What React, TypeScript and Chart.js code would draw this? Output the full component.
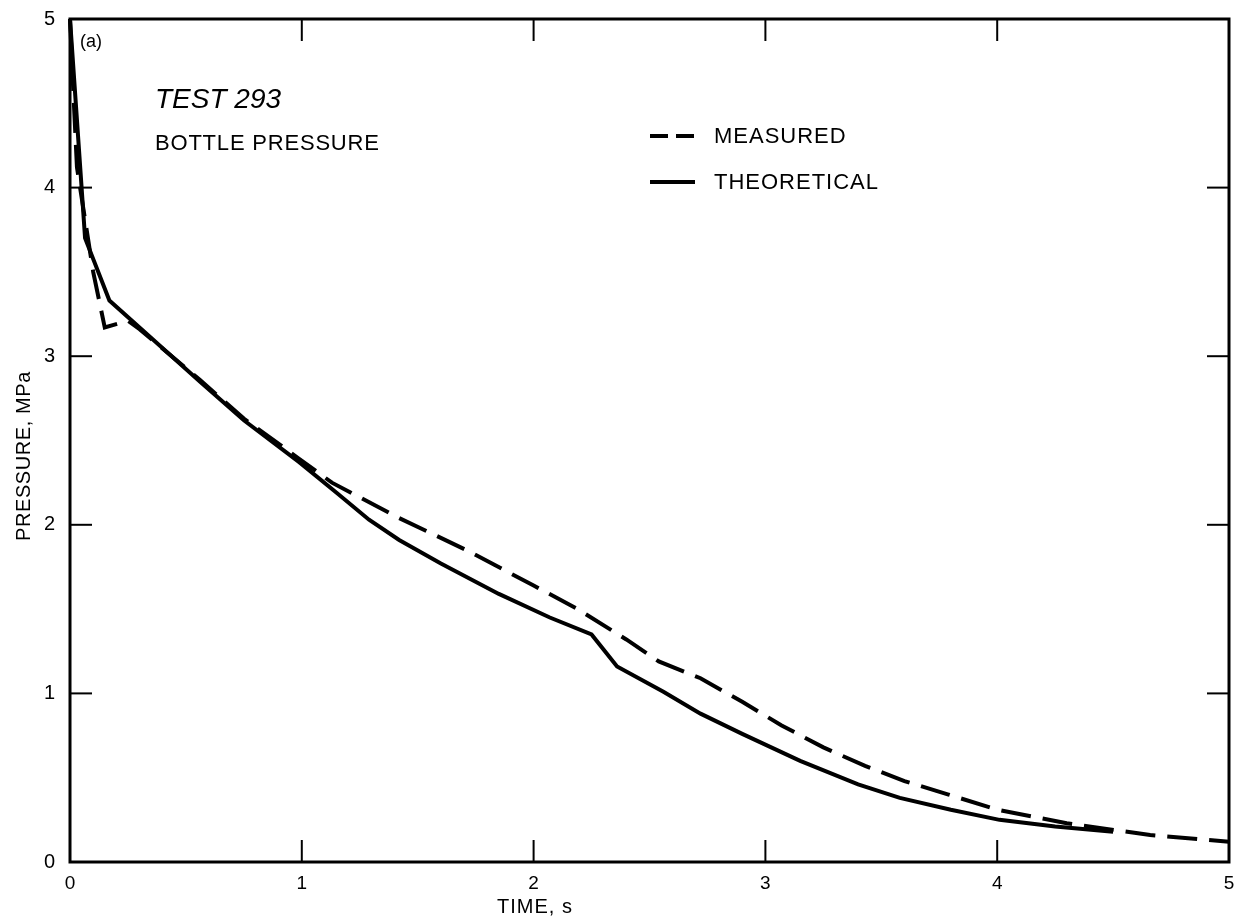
import { useEffect, useRef } from 'react';
import { Chart, registerables } from 'chart.js';

Chart.register(...registerables);

const FONT = "'Liberation Sans', Arial, sans-serif";

const measuredTime = [0, 0.015, 0.03, 0.1, 0.15, 0.25, 0.3, 0.56, 0.75, 0.99, 1.13, 1.42, 1.71, 2.0, 2.19, 2.4, 2.54, 2.72, 2.9, 3.07, 3.25, 3.43, 3.6, 3.79, 4.0, 4.3, 4.66, 5.0];
const measuredPressure = [5.0, 4.55, 4.12, 3.5, 3.17, 3.21, 3.16, 2.86, 2.63, 2.39, 2.25, 2.04, 1.85, 1.64, 1.5, 1.32, 1.19, 1.09, 0.95, 0.81, 0.68, 0.57, 0.48, 0.4, 0.31, 0.23, 0.16, 0.12];

const theoreticalTime = [0, 0.065, 0.17, 0.3, 0.56, 0.75, 0.99, 1.15, 1.29, 1.42, 1.6, 1.85, 2.07, 2.25, 2.36, 2.56, 2.72, 2.9, 3.15, 3.4, 3.58, 3.8, 4.01, 4.25, 4.5];
const theoreticalPressure = [5.0, 3.7, 3.33, 3.17, 2.85, 2.62, 2.37, 2.19, 2.03, 1.91, 1.77, 1.59, 1.45, 1.35, 1.16, 1.01, 0.88, 0.76, 0.6, 0.46, 0.38, 0.31, 0.25, 0.21, 0.18];

const xTickValues = [0, 1, 2, 3, 4, 5];
const yTickValues = [0, 1, 2, 3, 4, 5];

const seriesLabels = ['MEASURED', 'THEORETICAL'];
const xAxisTitle = 'TIME, s';
const yAxisTitle = 'PRESSURE, MPa';

const framePlugin = {
  id: 'frameAndNotes',
  afterDraw(chart: any) {
    const { ctx, chartArea: a, scales } = chart;
    ctx.save();
    ctx.strokeStyle = '#000';
    ctx.fillStyle = '#000';
    ctx.lineCap = 'butt';
    ctx.lineWidth = 3;
    ctx.strokeRect(a.left, a.top, a.right - a.left, a.bottom - a.top);
    ctx.lineWidth = 2;
    const tl = 22;
    const line = (x1: number, y1: number, x2: number, y2: number) => {
      ctx.beginPath();
      ctx.moveTo(x1, y1);
      ctx.lineTo(x2, y2);
      ctx.stroke();
    };
    xTickValues.slice(1, -1).forEach((v) => {
      const px = scales.x.getPixelForValue(v);
      line(px, a.bottom, px, a.bottom - tl);
      line(px, a.top, px, a.top + tl);
    });
    yTickValues.slice(1, -1).forEach((v) => {
      const py = scales.y.getPixelForValue(v);
      line(a.left, py, a.left + tl, py);
      line(a.right, py, a.right - tl, py);
    });

    ctx.textBaseline = 'middle';
    ctx.textAlign = 'left';
    ctx.font = `18px ${FONT}`;
    ctx.fillText('(a)', 80, 42);
    ctx.font = `italic 28px ${FONT}`;
    ctx.fillText('TEST 293', 155, 100);
    ctx.font = `22px ${FONT}`;
    (ctx as any).letterSpacing = '0.8px';
    ctx.fillText('BOTTLE PRESSURE', 155, 144);

    ctx.lineWidth = 4;
    ctx.setLineDash([18, 8]);
    line(650, 136, 694, 136);
    ctx.setLineDash([]);
    line(650, 182, 695, 182);
    (ctx as any).letterSpacing = '1px';
    ctx.font = `22px ${FONT}`;
    ctx.fillText(seriesLabels[0], 714, 137);
    ctx.fillText(seriesLabels[1], 714, 183);

    // axis titles
    ctx.textAlign = 'center';
    ctx.font = `20px ${FONT}`;
    ctx.fillText(xAxisTitle, 535, 907);
    (ctx as any).letterSpacing = '0.6px';
    ctx.translate(24, 456);
    ctx.rotate(-Math.PI / 2);
    ctx.fillText(yAxisTitle, 0, 0);
    (ctx as any).letterSpacing = '0px';
    ctx.restore();
  },
};

export default function App() {
  const ref = useRef<HTMLCanvasElement>(null);
  useEffect(() => {
    if (!ref.current) return;
    const chart = new Chart(ref.current, {
      type: 'line',
      data: {
        datasets: [
          {
            label: seriesLabels[0],
            data: measuredTime.map((t, i) => ({ x: t, y: measuredPressure[i] })),
            borderColor: '#000',
            borderWidth: 4,
            borderDash: [30, 12],
            pointRadius: 0,
            tension: 0,
            fill: false,
            clip: 4,
          },
          {
            label: seriesLabels[1],
            data: theoreticalTime.map((t, i) => ({ x: t, y: theoreticalPressure[i] })),
            borderColor: '#000',
            borderWidth: 4,
            pointRadius: 0,
            tension: 0,
            fill: false,
            clip: 4,
          },
        ],
      },
      options: {
        animation: false,
        responsive: true,
        maintainAspectRatio: false,
        layout: { padding: { top: 19, right: 11, left: 0, bottom: 0 } },
        plugins: { legend: { display: false }, tooltip: { enabled: false } },
        scales: {
          x: {
            type: 'linear',
            min: 0,
            max: 5,
            afterBuildTicks: (s: any) => {
              s.ticks = xTickValues.map((v) => ({ value: v }));
            },
            afterFit: (s: any) => {
              s.height = 59;
              s.paddingLeft = 0;
              s.paddingRight = 0;
            },
            grid: { display: false, drawTicks: false },
            border: { display: false },
            ticks: { padding: 10, color: '#000', font: { family: FONT, size: 19 }, maxRotation: 0, autoSkip: false },
            title: { display: false },
          },
          y: {
            type: 'linear',
            min: 0,
            max: 5,
            afterBuildTicks: (s: any) => {
              s.ticks = yTickValues.map((v) => ({ value: v }));
            },
            afterFit: (s: any) => {
              s.width = 70;
              s.paddingTop = 0;
              s.paddingBottom = 0;
            },
            grid: { display: false, drawTicks: false },
            border: { display: false },
            ticks: { padding: 15, color: '#000', font: { family: FONT, size: 20 }, autoSkip: false },
            title: { display: false },
          },
        },
      },
      plugins: [framePlugin],
    });
    return () => chart.destroy();
  }, []);
  return (
    <div style={{ position: 'absolute', left: 0, top: 0, width: 1240, height: 921, background: '#fff' }}>
      <canvas ref={ref} />
    </div>
  );
}
